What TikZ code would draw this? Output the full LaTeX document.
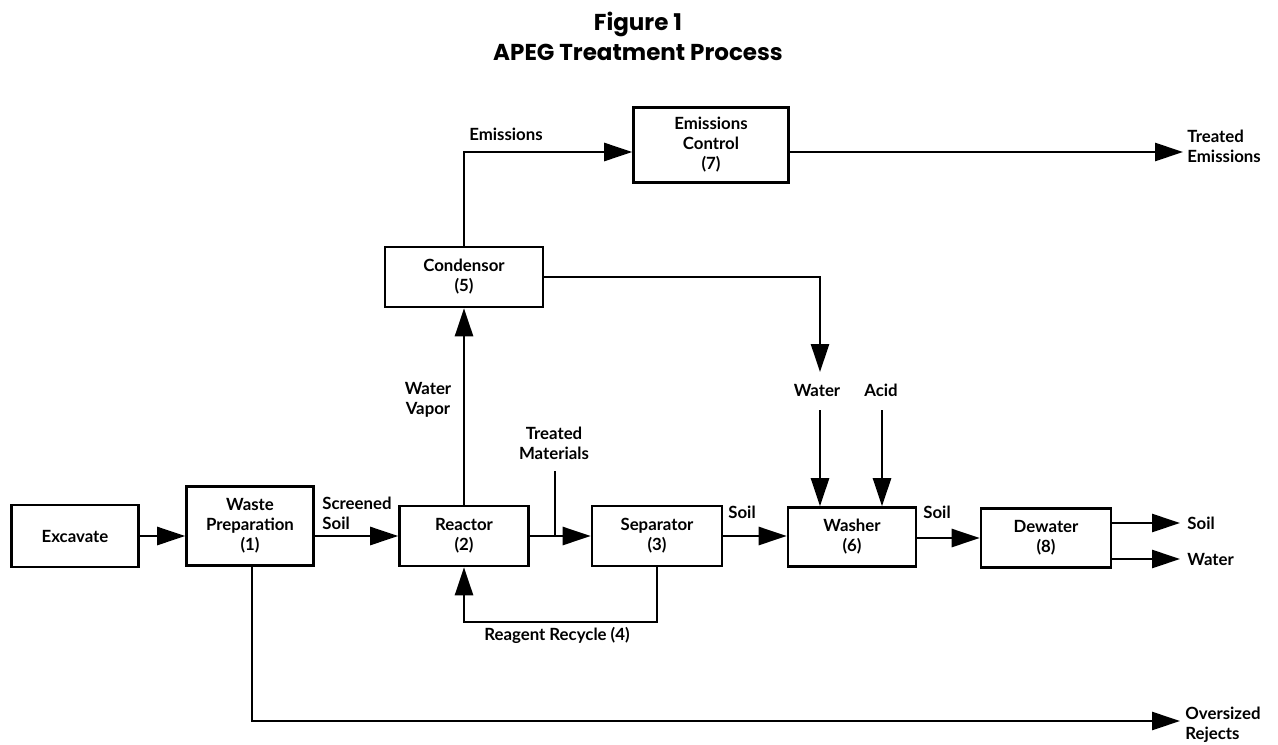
\documentclass[tikz,border=0pt]{standalone}
\usepackage{fontspec}
\setmainfont{Lato}
\newfontfamily\titlefont{Poppins}
\usetikzlibrary{positioning,arrows.meta}

\begin{document}
\begin{tikzpicture}[x=0.5pt,y=-0.5pt,>={Triangle[length=14pt,width=9pt]},
  font=\bfseries\fontsize{8.4}{10}\selectfont,
  unit/.style={draw, line width=1.3pt, align=center, inner sep=0pt},
  flow/.style={line width=1.3pt},
  lbl/.style={align=center, inner sep=0pt}]
\useasboundingbox (0,0) rectangle (1278,744);

% title
\node (t1) at (638,24) [font=\titlefont\bfseries\fontsize{11.5}{13}\selectfont] {Figure 1};
\node (t2) at (638,52) [font=\titlefont\bfseries\fontsize{11.5}{13}\selectfont] {APEG Treatment Process};

% process units
\node (exc)  at (75,536)  [unit, minimum width=63.5pt, minimum height=31pt] {Excavate};
\node (prep) at (250,526) [unit, minimum width=63.5pt, minimum height=39.5pt] {Waste\\Preparation\\(1)};
\node (reac) at (464,536) [unit, minimum width=64.5pt, minimum height=30pt] {Reactor\\(2)};
\node (sep)  at (657,536) [unit, minimum width=65pt, minimum height=30pt] {Separator\\(3)};
\node (wash) at (852,537) [unit, minimum width=64pt, minimum height=29.5pt] {Washer\\(6)};
\node (dew)  at (1046,538) [unit, minimum width=65pt, minimum height=29.5pt] {Dewater\\(8)};
\node (cond) at (464,277) [unit, minimum width=79pt, minimum height=30pt] {Condensor\\(5)};
\node (emc)  at (711,145) [unit, minimum width=77.5pt, minimum height=37.5pt] {Emissions\\Control\\(7)};

% free ends
\coordinate (tm)   at (555,471);
\coordinate (rec)  at (657,622);
\coordinate (emin) at (464,152);
\coordinate (temi) at (1183,152);
\coordinate (cw)   at (820,372);
\coordinate (win)  at (820,410);
\coordinate (ain)  at (882,410);
\coordinate (soil) at (1180,523);
\coordinate (wout) at (1180,559);
\coordinate (rej)  at (1180,721);

% labels
\node (l1) at (322,513) [lbl, anchor=west, align=left] {Screened\\Soil};
\node (l2) at (428,400) [lbl] {Water\\Vapor};
\node (l3) at (554,443) [lbl] {Treated\\Materials};
\node (l4) at (557,635) [lbl] {Reagent Recycle (4)};
\node (l5) at (742,512) [lbl] {Soil};
\node (l6) at (937,512) [lbl] {Soil};
\node (l7) at (817,390) [lbl] {Water};
\node (l8) at (881,390) [lbl] {Acid};
\node (l9) at (506,134) [lbl] {Emissions};
\node (l10) at (1187,146) [lbl, anchor=west, align=left] {Treated\\Emissions};
\node (l11) at (1187,523) [lbl, anchor=west] {Soil};
\node (l12) at (1187,559) [lbl, anchor=west] {Water};
\node (l13) at (1185,725) [lbl, anchor=west, align=left] {Oversized\\Rejects};

% connectors
\draw[->, flow] (exc) -- (exc -| prep.west);
\draw[->, flow] (prep.east |- reac) -- (reac);
\draw[->, flow] (reac) -- (sep);
\draw[flow] (tm) -- (tm |- reac);
\draw[->, flow] (sep) -- (wash.west |- sep);
\draw[->, flow] (wash.east |- dew) -- (dew);
\draw[->, flow] (dew.east |- soil) -- (soil);
\draw[->, flow] (dew.east |- wout) -- (wout);
\draw[->, flow] (sep.south) -- (rec) -| (reac.south);
\draw[->, flow] (reac) -- (cond);
\draw[->, flow] (cond) -- (emin) -- (emin -| emc.west);
\draw[->, flow] (emc.east |- temi) -- (temi);
\draw[->, flow] (cond.east) -| (cw);
\draw[->, flow] (win) -- (win |- wash.north);
\draw[->, flow] (ain) -- (ain |- wash.north);
\draw[->, flow] (prep.south -| 252,0) |- (rej);
\end{tikzpicture}
\end{document}
